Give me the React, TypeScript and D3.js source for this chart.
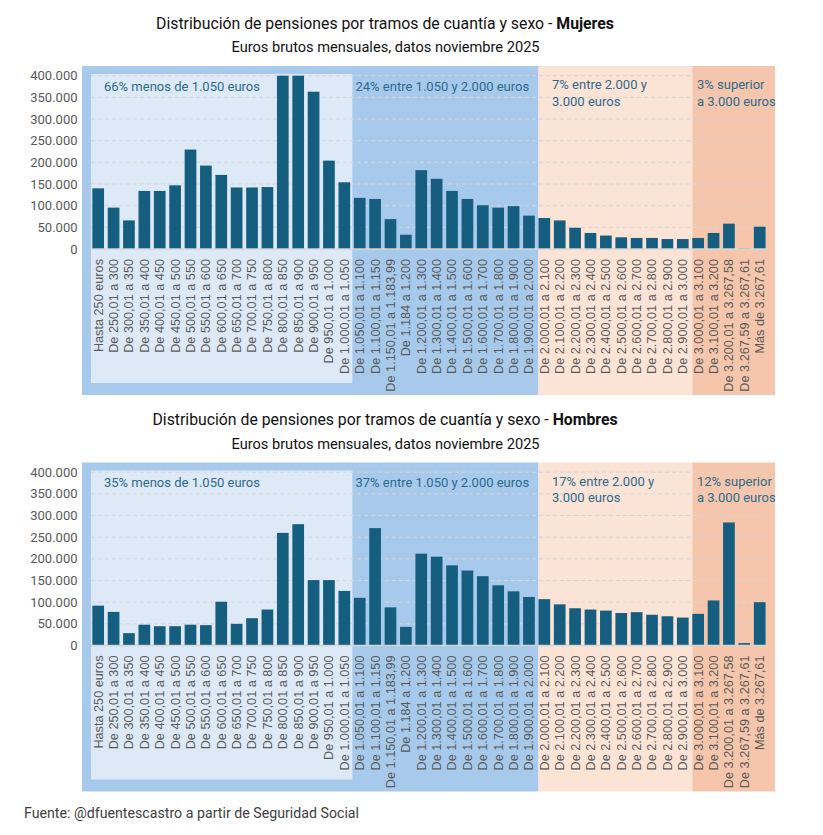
import { scaleBand, scaleLinear } from "d3";

const categories = [
  "Hasta 250 euros",
  "De 250,01 a 300",
  "De 300,01 a 350",
  "De 350,01 a 400",
  "De 400,01 a 450",
  "De 450,01 a 500",
  "De 500,01 a 550",
  "De 550,01 a 600",
  "De 600,01 a 650",
  "De 650,01 a 700",
  "De 700,01 a 750",
  "De 750,01 a 800",
  "De 800,01 a 850",
  "De 850,01 a 900",
  "De 900,01 a 950",
  "De 950,01 a 1.000",
  "De 1.000,01 a 1.050",
  "De 1.050,01 a 1.100",
  "De 1.100,01 a 1.150",
  "De 1.150,01 a 1.183,99",
  "De 1.184 a 1.200",
  "De 1.200,01 a 1.300",
  "De 1.300,01 a 1.400",
  "De 1.400,01 a 1.500",
  "De 1.500,01 a 1.600",
  "De 1.600,01 a 1.700",
  "De 1.700,01 a 1.800",
  "De 1.800,01 a 1.900",
  "De 1.900,01 a 2.000",
  "De 2.000,01 a 2.100",
  "De 2.100,01 a 2.200",
  "De 2.200,01 a 2.300",
  "De 2.300,01 a 2.400",
  "De 2.400,01 a 2.500",
  "De 2.500,01 a 2.600",
  "De 2.600,01 a 2.700",
  "De 2.700,01 a 2.800",
  "De 2.800,01 a 2.900",
  "De 2.900,01 a 3.000",
  "De 3.000,01 a 3.100",
  "De 3.100,01 a 3.200",
  "De 3.200,01 a 3.267,58",
  "De 3.267,59 a 3.267,61",
  "Más de 3.267,61",
];

// pensiones (número)
const mujeres = [
  140000, 95500, 66000, 134000, 134000, 147000, 229500, 192500, 171000, 142000,
  142000, 143000, 400000, 400000, 363000, 204000, 154000, 118000, 115500, 69000,
  33000, 182000, 162000, 134000, 115500, 101000, 95500, 99000, 77000, 71500,
  66000, 49000, 37000, 31000, 27000, 25500, 25500, 23000, 23000, 25500,
  37000, 58500, 1000, 51500,
];

const hombres = [
  92000, 77500, 28500, 48000, 44500, 44500, 48000, 47000, 101000, 50000,
  63000, 83000, 260000, 280000, 151000, 151000, 126000, 110000, 271000, 88000,
  43000, 212000, 205000, 185000, 173000, 160000, 139000, 125000, 112000, 107000,
  95000, 86000, 83000, 80500, 75000, 77000, 71000, 67500, 64500, 73000,
  104000, 284000, 5500, 100000,
];

const yTicks = [0, 50000, 100000, 150000, 200000, 250000, 300000, 350000, 400000];

const notesMujeres = [
  ["66% menos de 1.050 euros"],
  ["24% entre 1.050 y 2.000 euros"],
  ["7% entre 2.000 y", "3.000 euros"],
  ["3% superior", "a 3.000 euros"],
];
const notesHombres = [
  ["35% menos de 1.050 euros"],
  ["37% entre 1.050 y 2.000 euros"],
  ["17% entre 2.000 y", "3.000 euros"],
  ["12% superior", "a 3.000 euros"],
];

const W = 823;
const H = 835;
const BAR = "#165e80";
const fmt = (v: number) => (v === 0 ? "0" : (v / 1000).toFixed(0) + ".000");

function Panel({ dy, values, sexo, notes }: any) {
  const x = scaleBand<string>()
    .domain(categories)
    .range([90.5, 767.4])
    .paddingInner(0.24)
    .paddingOuter(0.12);
  const y = scaleLinear().domain([0, 400000]).range([249 + dy, 75.7 + dy]);

  const b1050 = x(categories[17])! - 1.5;
  const b2000 = x(categories[29])!;
  const b3000 = x(categories[39])!;
  const top = 66 + dy;
  const bottom = 395 + dy;

  const noteX = [104, 355.5, 552, 697];
  const noteY = 90.5 + dy;

  return (
    <g>
      <text
        x={385}
        y={28.5 + dy}
        textAnchor="middle"
        fontFamily="Roboto"
        fontSize={15.8}
        fill="#111"
      >
        Distribución de pensiones por tramos de cuantía y sexo -{" "}
        <tspan fontWeight="bold">{sexo}</tspan>
      </text>
      <text
        x={385.5}
        y={52 + dy}
        textAnchor="middle"
        fontFamily="Roboto"
        fontSize={14.6}
        fill="#111"
      >
        Euros brutos mensuales, datos noviembre 2025
      </text>

      {/* fondos por tramos */}
      <rect x={82} y={top} width={b2000 - 82} height={bottom - top} fill="#a7c9eb" />
      <rect x={91} y={74 + dy} width={b1050 - 91} height={309} fill="#dde9f6" />
      <rect x={b2000} y={top} width={b3000 - b2000} height={bottom - top} fill="#fbe3d6" />
      <rect x={b3000} y={top} width={775 - b3000} height={bottom - top} fill="#f5c6ab" />

      {yTicks.map((t) => (
        <g key={t}>
          {t > 0 && (
            <line
              x1={91}
              x2={767}
              y1={y(t)}
              y2={y(t)}
              stroke="#d6d6d6"
              strokeWidth={1}
              strokeDasharray="4,3"
            />
          )}
          <text
            x={77.5}
            y={y(t)}
            dy="0.35em"
            textAnchor="end"
            fontFamily="Roboto"
            fontSize={13}
            fill="#595959"
          >
            {fmt(t)}
          </text>
        </g>
      ))}

      {values.map((v: number, i: number) => (
        <rect
          key={i}
          x={x(categories[i])}
          y={y(v)}
          width={x.bandwidth()}
          height={y(0) - y(v)}
          fill={BAR}
        />
      ))}

      <line x1={91} x2={767} y1={y(0)} y2={y(0)} stroke="#d4d4d4" strokeWidth={1.5} />

      {categories.map((c) => (
        <text
          key={c}
          transform={`translate(${x(c)! + x.bandwidth() / 2},${y(0) + 10}) rotate(-90)`}
          dy="0.35em"
          textAnchor="end"
          fontFamily="Liberation Sans"
          fontSize={12.7}
          fill="#5a5a5a"
        >
          {c}
        </text>
      ))}

      {notes.map((lines: string[], k: number) => (
        <text
          key={k}
          x={noteX[k]}
          y={k < 2 ? noteY : noteY - 1.5}
          fontFamily="Roboto"
          fontSize={13}
          fill="#2c6a8e"
        >
          {lines.map((l, j) => (
            <tspan key={j} x={noteX[k]} dy={j === 0 ? 0 : 16.5}>
              {l}
            </tspan>
          ))}
        </text>
      ))}
    </g>
  );
}

export default function App() {
  return (
    <svg
      width={W}
      height={H}
      style={{ position: "absolute", left: 0, top: 0, background: "#fff" }}
    >
      <Panel dy={0} values={mujeres} sexo="Mujeres" notes={notesMujeres} />
      <Panel dy={396.5} values={hombres} sexo="Hombres" notes={notesHombres} />
      <text x={24} y={818} fontFamily="Roboto" fontSize={14.2} fill="#404040">
        Fuente: @dfuentescastro a partir de Seguridad Social
      </text>
    </svg>
  );
}
